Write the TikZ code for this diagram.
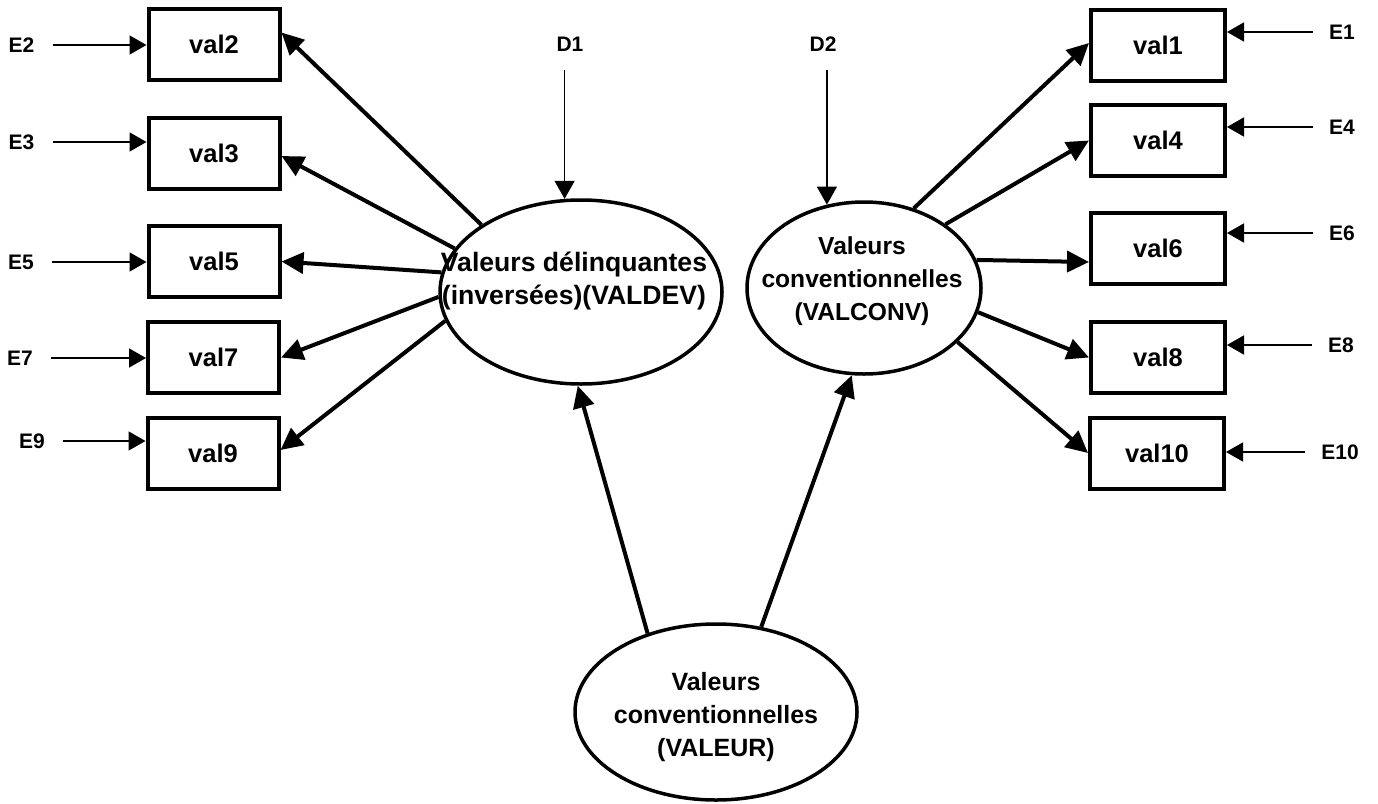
\documentclass[tikz,border=0pt]{standalone}
\usepackage{fontspec}
\setmainfont{Liberation Sans}
\usetikzlibrary{arrows.meta,shapes.geometric}
\begin{document}
\begin{tikzpicture}[x=1pt,y=1pt,
  box/.style={draw, line width=4pt, minimum width=131pt, minimum height=71pt, inner sep=0pt,
    font=\fontsize{25.5}{30}\selectfont\bfseries},
  lat/.style={draw, ellipse, line width=3.5pt, inner sep=0pt},
  lattext/.style={align=center, inner sep=0pt, font=\fontsize{25}{33}\selectfont\bfseries},
  elab/.style={inner sep=0pt, font=\fontsize{21}{24}\selectfont\bfseries},
  heavyarrow/.style={line width=4pt, -{Triangle[length=22pt,width=21pt]}},
  lightarrow/.style={line width=1.6pt, -{Triangle[length=17pt,width=19pt]}},
  distarrow/.style={line width=1.2pt, -{Triangle[length=18pt,width=20pt]}}]
\useasboundingbox (0,0) rectangle (1378,-803);
\fill[white] (0,0) rectangle (1378,-803);

% left boxes
\node[box] (val2) at (214,-44.5) {val2};
\node[box] (val3) at (214,-153) {val3};
\node[box] (val5) at (214,-261.5) {val5};
\node[box] (val7) at (213.5,-357.5) {val7};
\node[box] (val9) at (213,-453) {val9};
% right boxes
\node[box, minimum width=134pt] (val1) at (1158,-45) {val1};
\node[box, minimum width=134pt] (val4) at (1158,-140.5) {val4};
\node[box, minimum width=134pt] (val6) at (1158,-248) {val6};
\node[box, minimum width=134pt] (val8) at (1158,-357.5) {val8};
\node[box, minimum width=134pt] (val10) at (1157,-453) {val10};

% error labels
\node[elab] (e2) at (21.5,-45) {E2};
\node[elab] (e3) at (21.5,-142) {E3};
\node[elab] (e5) at (21,-262) {E5};
\node[elab] (e7) at (20,-358) {E7};
\node[elab] (e9) at (32,-441) {E9};
\node[elab] (e1) at (1342,-32) {E1};
\node[elab] (e4) at (1342,-127) {E4};
\node[elab] (e6) at (1342,-233) {E6};
\node[elab] (e8) at (1341,-345) {E8};
\node[elab] (e10) at (1340,-452) {E10};

\foreach \e/\v in {e2/val2,e3/val3,e5/val5,e7/val7,e9/val9}
  \draw[lightarrow, shorten <=18pt] (\e.east) -- (\e.east -| \v.west);
\foreach \e/\v in {e1/val1,e4/val4,e6/val6,e8/val8,e10/val10}
  \draw[lightarrow, shorten <=16pt] (\e.west) -- (\e.west -| \v.east);

% latent variables
\node[lat, minimum width=282pt, minimum height=184pt] (ld) at (581,-292) {};
\node[lattext, font=\fontsize{26.6}{33}\selectfont\bfseries] (ldt) at (574,-281) {Valeurs délinquantes\\(inversées)(VALDEV)};
\node[lat, minimum width=234pt, minimum height=172pt] (lc) at (864,-288) {};
\node[lattext, font=\fontsize{24.6}{33}\selectfont\bfseries] (lct) at (862,-281) {Valeurs\\conventionnelles\\(VALCONV)};
\node[lat, minimum width=282pt, minimum height=176pt] (lv) at (716,-712) {};
\node[lattext] (lvt) at (716,-717) {Valeurs\\conventionnelles\\(VALEUR)};

% disturbances
\node[elab] (d1) at (570,-44.5) {D1};
\node[elab] (d2) at (823,-44.5) {D2};
\draw[distarrow, shorten <=18pt] (ld.100 |- d1.south) -- (ld.100);
\draw[distarrow, shorten <=18pt] (lc.114 |- d2.south) -- (lc.114);

% loadings
\draw[heavyarrow] (ld.146) -- ([yshift=12pt]val2.east);
\draw[heavyarrow] (ld.161) -- ([yshift=-3pt]val3.east);
\draw[heavyarrow] (ld.172) -- (val5.east);
\draw[heavyarrow] (ld.182) -- (val7.east);
\draw[heavyarrow] (ld.192) -- ([yshift=3pt]val9.east);

\draw[heavyarrow] (lc.58) -- ([yshift=2pt]val1.west);
\draw[heavyarrow] (lc.38) -- (val4.west);
\draw[heavyarrow] (lc.14) -- ([yshift=-14pt]val6.west);
\draw[heavyarrow] (lc.348) -- (val8.west);
\draw[heavyarrow] (lc.330) -- (val10.west);

% second order
\draw[heavyarrow] (lv.131) -- (ld.268);
\draw[heavyarrow] (lv.62) -- (lc.262);
\end{tikzpicture}
\end{document}
